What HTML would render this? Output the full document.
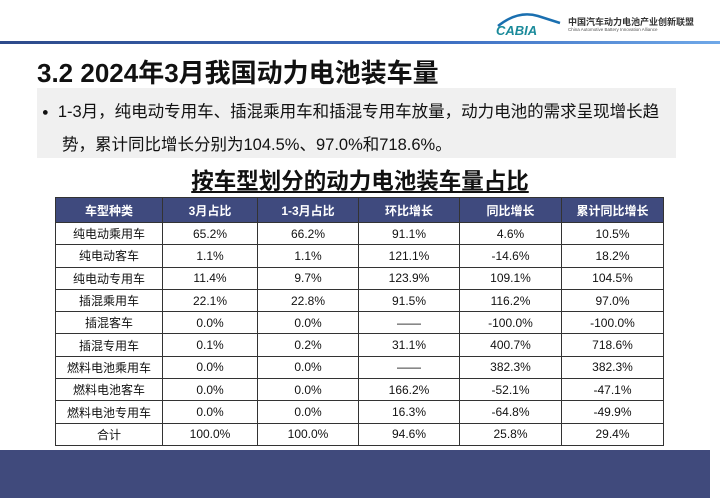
<!DOCTYPE html>
<html><head><meta charset="utf-8"><style>
*{margin:0;padding:0;box-sizing:border-box}
body{width:720px;height:498px;background:#fff;position:relative;overflow:hidden;font-family:"Liberation Sans","Noto Sans CJK SC",sans-serif}
.abs{position:absolute}
table{position:absolute;left:55px;top:197px;border-collapse:collapse;font-size:12px}
td,th{border:1px solid #333;text-align:center;height:22.3px;padding:0;color:#111}
th{background:#3f4a7e;color:#fff;height:25px;font-weight:bold;font-size:12px}
</style></head><body>
<div class="abs" style="left:0;top:41px;width:720px;height:3px;background:linear-gradient(90deg,#2d4a8a,#3b6cc0 60%,#6fa8e8)"></div>
<svg class="abs" style="left:490px;top:8px" width="80" height="30">
<path d="M8 18 Q28 2 48 8 L70 15" stroke="#1a6fb0" stroke-width="2.5" fill="none"/>
<text x="6" y="27" font-family="Liberation Sans" font-style="italic" font-weight="bold" font-size="13" fill="#1a8a9a">CABIA</text>
</svg>
<div class="abs" style="left:568px;top:15px;font-size:9px;font-weight:bold;color:#333;white-space:nowrap">中国汽车动力电池产业创新联盟</div>
<div class="abs" style="left:568px;top:27px;font-size:4.5px;color:#555;white-space:nowrap">China Automotive Battery Innovation Alliance</div>
<div class="abs" style="left:37px;top:53px;font-size:26px;font-weight:bold;color:#111;white-space:nowrap">3.2 2024年3月我国动力电池装车量</div>
<div class="abs" style="left:37px;top:88px;width:639px;height:70px;background:#f0f0f0"></div>
<div class="abs" style="left:42px;top:96px;font-size:16.5px;color:#111;line-height:32px;width:640px;white-space:nowrap">
<span style="font-size:11px;vertical-align:middle">●</span>&nbsp; 1-3月，纯电动专用车、插混乘用车和插混专用车放量，动力电池的需求呈现增长趋<br><span style="padding-left:20px">势，累计同比增长分别为104.5%、97.0%和718.6%。</span></div>
<div class="abs" style="left:0;width:720px;top:164px;text-align:center;font-size:22.5px;font-weight:bold;color:#111"><span style="text-decoration:underline">按车型划分的动力电池装车量占比</span></div>
<table>
<colgroup><col style="width:107px"><col style="width:95px"><col style="width:101px"><col style="width:101px"><col style="width:102px"><col style="width:102px"></colgroup>
<tr><th>车型种类</th><th>3月占比</th><th>1-3月占比</th><th>环比增长</th><th>同比增长</th><th>累计同比增长</th></tr>
<tr><td>纯电动乘用车</td><td>65.2%</td><td>66.2%</td><td>91.1%</td><td>4.6%</td><td>10.5%</td></tr>
<tr><td>纯电动客车</td><td>1.1%</td><td>1.1%</td><td>121.1%</td><td>-14.6%</td><td>18.2%</td></tr>
<tr><td>纯电动专用车</td><td>11.4%</td><td>9.7%</td><td>123.9%</td><td>109.1%</td><td>104.5%</td></tr>
<tr><td>插混乘用车</td><td>22.1%</td><td>22.8%</td><td>91.5%</td><td>116.2%</td><td>97.0%</td></tr>
<tr><td>插混客车</td><td>0.0%</td><td>0.0%</td><td>——</td><td>-100.0%</td><td>-100.0%</td></tr>
<tr><td>插混专用车</td><td>0.1%</td><td>0.2%</td><td>31.1%</td><td>400.7%</td><td>718.6%</td></tr>
<tr><td>燃料电池乘用车</td><td>0.0%</td><td>0.0%</td><td>——</td><td>382.3%</td><td>382.3%</td></tr>
<tr><td>燃料电池客车</td><td>0.0%</td><td>0.0%</td><td>166.2%</td><td>-52.1%</td><td>-47.1%</td></tr>
<tr><td>燃料电池专用车</td><td>0.0%</td><td>0.0%</td><td>16.3%</td><td>-64.8%</td><td>-49.9%</td></tr>
<tr><td>合计</td><td>100.0%</td><td>100.0%</td><td>94.6%</td><td>25.8%</td><td>29.4%</td></tr>
</table>
<div class="abs" style="left:0;top:450px;width:710px;height:48px;background:#404a7c"></div>
</body></html>
